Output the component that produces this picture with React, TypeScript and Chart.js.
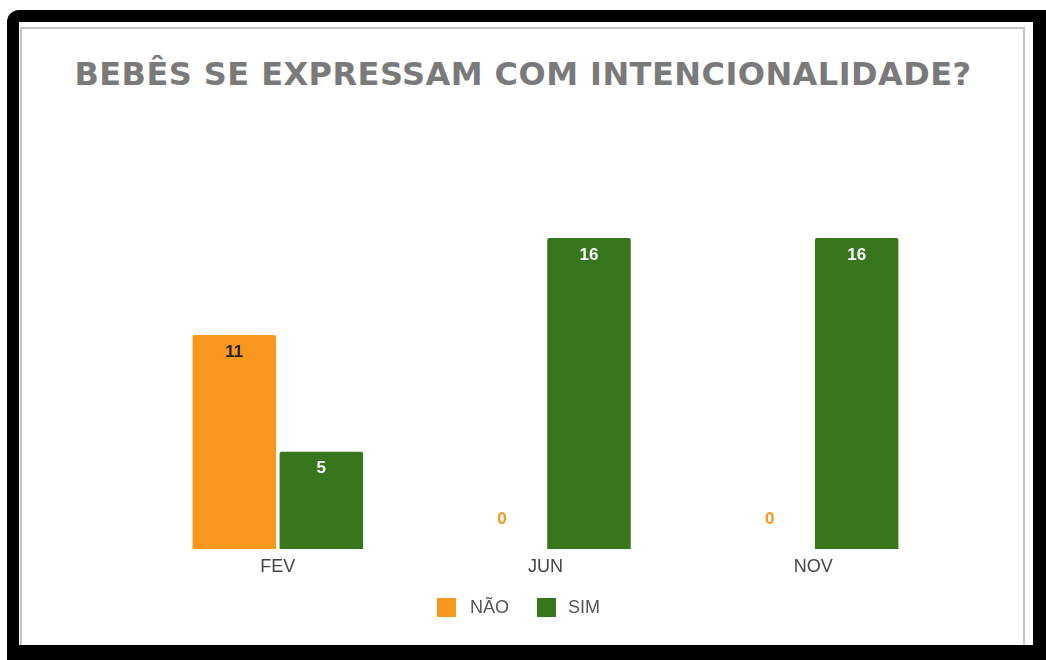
import React, { useEffect, useRef } from "react";
import { Chart, registerables } from "chart.js";

Chart.register(...registerables);

const categories = ["FEV", "JUN", "NOV"];
const naoValues = [11, 0, 0];
const simValues = [5, 16, 16];
const seriesLabels = ["NÃO", "SIM"];
const titleText = "BEBÊS SE EXPRESSAM COM INTENCIONALIDADE?";

const ORANGE = "#F7971E";
const GREEN = "#38761D";
const seriesColors = [ORANGE, GREEN];
const labelColors = ["#222222", "#ffffff"];

const SANS = "'Liberation Sans', Arial, sans-serif";

const valueLabelPlugin = {
  id: "valueLabels",
  afterDatasetsDraw(chart: any) {
    const ctx = chart.ctx;
    ctx.save();
    ctx.font = "bold 17px " + SANS;
    ctx.textAlign = "center";
    ctx.textBaseline = "middle";
    chart.data.datasets.forEach((ds: any, di: number) => {
      const meta = chart.getDatasetMeta(di);
      meta.data.forEach((el: any, i: number) => {
        const v = ds.data[i];
        if (v > 0) {
          ctx.fillStyle = labelColors[di];
          ctx.fillText(String(v), el.x, el.y + 17);
        } else {
          ctx.fillStyle = ds.backgroundColor;
          ctx.fillText(String(v), el.x, el.base - 30);
        }
      });
    });
    ctx.restore();
  },
};

export default function App() {
  const ref = useRef<HTMLCanvasElement>(null);
  useEffect(() => {
    if (!ref.current) return;
    const chart = new Chart(ref.current, {
      type: "bar",
      data: {
        labels: categories,
        datasets: [
          {
            label: seriesLabels[0],
            data: naoValues,
            backgroundColor: ORANGE,
            borderRadius: 2,
            categoryPercentage: 0.65,
            barPercentage: 0.96,
          },
          {
            label: seriesLabels[1],
            data: simValues,
            backgroundColor: GREEN,
            borderRadius: 2,
            categoryPercentage: 0.65,
            barPercentage: 0.96,
          },
        ],
      },
      options: {
        animation: false,
        responsive: false,
        maintainAspectRatio: false,
        layout: { padding: { left: 123, right: 74, top: 170, bottom: 66 } },
        plugins: {
          title: { display: false },
          legend: { display: false },
          tooltip: { enabled: false },
        },
        scales: {
          x: {
            grid: { display: false, drawTicks: false },
            border: { display: false },
            ticks: {
              color: "#444444",
              padding: 7,
              font: { family: SANS, size: 18 },
            },
            afterFit(axis: any) {
              axis.height = 30;
            },
          },
          y: {
            display: false,
            min: 0,
            max: 18,
          },
        },
      },
      plugins: [valueLabelPlugin],
    });
    return () => chart.destroy();
  }, []);

  const legendText: React.CSSProperties = {
    position: "absolute",
    top: 596,
    height: 22,
    lineHeight: "22px",
    fontFamily: SANS,
    fontSize: 18,
    color: "#555555",
    whiteSpace: "nowrap",
  };
  const box = (x: number, c: string): React.CSSProperties => ({
    position: "absolute",
    left: x,
    top: 598,
    width: 19,
    height: 19,
    background: c,
  });

  return (
    <div style={{ position: "absolute", left: 0, top: 0, width: 1046, height: 660, background: "#fff", overflow: "hidden" }}>
      <div style={{ position: "absolute", left: 7, top: 10, width: 1060, height: 670, background: "#000", borderTopLeftRadius: 12 }} />
      <div style={{ position: "absolute", left: 19, top: 22, width: 1014, height: 623, background: "#fff", overflow: "hidden" }}>
        <div style={{ position: "absolute", left: 1, top: 5, width: 1005, height: 700, border: "2px solid #c4c4c4", boxSizing: "border-box" }} />
      </div>
      <div
        style={{
          position: "absolute",
          left: 0,
          top: 56,
          width: 1046,
          textAlign: "center",
          fontFamily: "'DejaVu Sans', Verdana, sans-serif",
          fontWeight: "bold",
          fontSize: 32,
          lineHeight: "36px",
          letterSpacing: 0.45,
          color: "#7a7a7a",
          whiteSpace: "nowrap",
        }}
      >
        {titleText}
      </div>
      <canvas ref={ref} width={1000} height={616} style={{ position: "absolute", left: 21, top: 29, width: 1000, height: 616 }} />
      <div style={box(437, seriesColors[0])} />
      <div style={{ ...legendText, left: 470 }}>{seriesLabels[0]}</div>
      <div style={box(537, seriesColors[1])} />
      <div style={{ ...legendText, left: 568 }}>{seriesLabels[1]}</div>
    </div>
  );
}
